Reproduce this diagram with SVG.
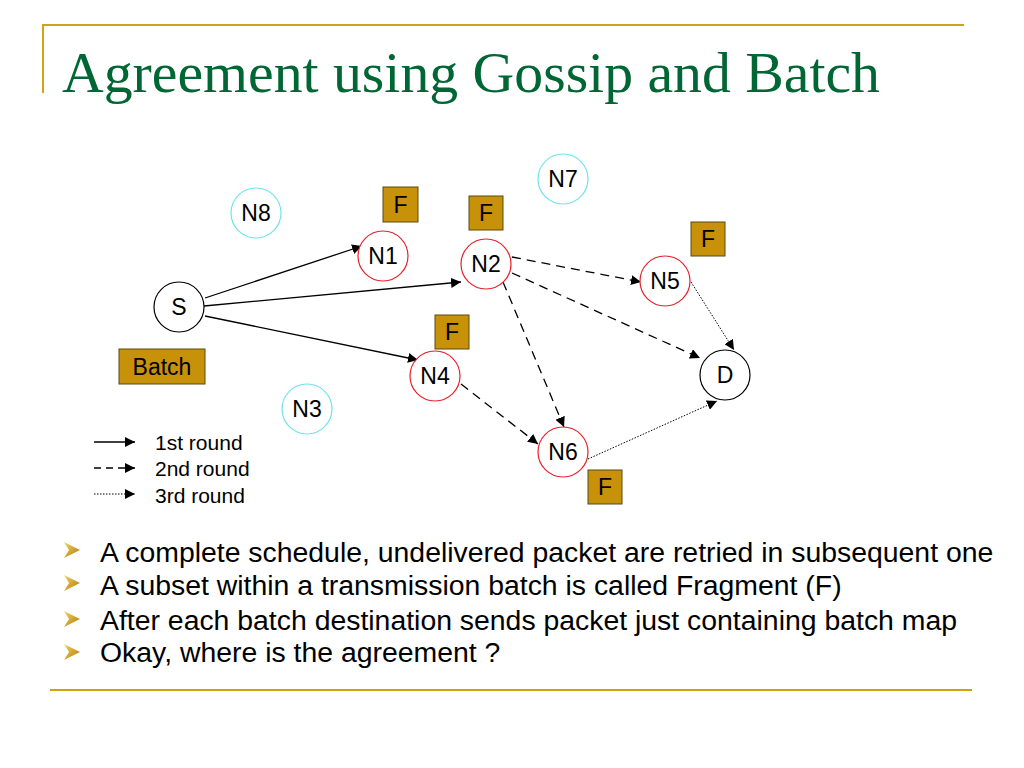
<svg xmlns="http://www.w3.org/2000/svg" width="1024" height="768" viewBox="0 0 1024 768">
<style>
.gold{stroke:#D4A017;stroke-width:2;fill:none}
.node{fill:#fff;stroke-width:1.2}
.red{stroke:#E8202A}
.cyan{stroke:#6FE3EE}
.blk{stroke:#000}
.lbl{font-family:"Liberation Sans",Arial,sans-serif;font-size:23px;fill:#000;text-anchor:middle}
.box{fill:#C8910A;stroke:#5a4a10;stroke-width:1}
.leg{font-family:"Liberation Sans",Arial,sans-serif;font-size:21px;fill:#000}
.bul{font-family:"Liberation Sans",Arial,sans-serif;font-size:28.4px;fill:#000}
.e{stroke:#000;fill:none;stroke-width:1.3}
.d2{stroke-dasharray:9,6}
.d3{stroke-dasharray:1.5,1.5;stroke-width:1}
</style>
<defs>
<marker id="ah" viewBox="0 0 10 10" refX="10" refY="5" markerWidth="10" markerHeight="10" markerUnits="userSpaceOnUse" orient="auto">
<path d="M0,0 L10,5 L0,10 z" fill="#000"/>
</marker>
<linearGradient id="bg" x1="0" y1="0" x2="1" y2="1">
<stop offset="0" stop-color="#F5D36A"/>
<stop offset="1" stop-color="#B07A00"/>
</linearGradient>
<path id="bullet" d="M0,0 L16,8 L0,16 L5,8 z" fill="url(#bg)"/>
</defs>
<rect width="1024" height="768" fill="#fff"/>
<g id="frame">
<line class="gold" x1="42" y1="25" x2="964" y2="25"/>
<line class="gold" x1="43" y1="25" x2="43" y2="93"/>
<line class="gold" x1="50" y1="690" x2="972" y2="690"/>
</g>
<text x="62" y="92" font-family="Liberation Serif,'Times New Roman',serif" font-size="56" fill="#006633" textLength="818" lengthAdjust="spacingAndGlyphs">Agreement using Gossip and Batch</text>
<g id="connectors">
<line class="e" x1="205" y1="298" x2="362" y2="246" marker-end="url(#ah)"/>
<line class="e" x1="204" y1="306" x2="461" y2="282" marker-end="url(#ah)"/>
<line class="e" x1="205" y1="316" x2="418" y2="360" marker-end="url(#ah)"/>
<line class="e d2" x1="512" y1="257" x2="641" y2="282" marker-end="url(#ah)"/>
<line class="e d2" x1="512" y1="273" x2="700" y2="358" marker-end="url(#ah)"/>
<line class="e d2" x1="503" y1="282" x2="564" y2="427" marker-end="url(#ah)"/>
<line class="e d2" x1="461" y1="384" x2="538" y2="444" marker-end="url(#ah)"/>
<line class="e d3" x1="691" y1="282" x2="734" y2="350" marker-end="url(#ah)"/>
<line class="e d3" x1="588" y1="459" x2="717" y2="401" marker-end="url(#ah)"/>
</g>
<g id="S"><circle class="node blk" cx="179" cy="307" r="25"/><text class="lbl" x="179" y="315">S</text></g>
<g id="N8"><circle class="node cyan" cx="256" cy="213" r="25"/><text class="lbl" x="256" y="221">N8</text></g>
<g id="N1"><circle class="node red" cx="383" cy="256" r="25"/><text class="lbl" x="383" y="264">N1</text></g>
<g id="N2"><circle class="node red" cx="486" cy="264" r="25"/><text class="lbl" x="486" y="272">N2</text></g>
<g id="N4"><circle class="node red" cx="435" cy="376" r="25"/><text class="lbl" x="435" y="384">N4</text></g>
<g id="N3"><circle class="node cyan" cx="307" cy="409" r="25"/><text class="lbl" x="307" y="417">N3</text></g>
<g id="N7"><circle class="node cyan" cx="563" cy="179" r="25"/><text class="lbl" x="563" y="187">N7</text></g>
<g id="N5"><circle class="node red" cx="665" cy="281" r="25"/><text class="lbl" x="665" y="289">N5</text></g>
<g id="D"><circle class="node blk" cx="725" cy="375" r="25"/><text class="lbl" x="725" y="383">D</text></g>
<g id="N6"><circle class="node red" cx="563" cy="452" r="25"/><text class="lbl" x="563" y="460">N6</text></g>
<g id="F1"><rect class="box" x="383" y="187" width="35" height="35"/><text class="lbl" x="400.5" y="213">F</text></g>
<g id="F2"><rect class="box" x="469" y="196" width="34" height="34"/><text class="lbl" x="486" y="221">F</text></g>
<g id="F4"><rect class="box" x="435" y="315" width="34" height="34"/><text class="lbl" x="452" y="340">F</text></g>
<g id="F5"><rect class="box" x="691" y="222" width="34" height="34"/><text class="lbl" x="708" y="247">F</text></g>
<g id="F6"><rect class="box" x="588" y="470" width="34" height="34"/><text class="lbl" x="605" y="495">F</text></g>
<g id="Batch"><rect class="box" x="119" y="349" width="86" height="35"/><text class="lbl" x="162" y="375">Batch</text></g>
<g id="legend">
<line class="e" x1="94" y1="442" x2="135" y2="442" marker-end="url(#ah)"/>
<line class="e" x1="94" y1="468" x2="135" y2="468" marker-end="url(#ah)" stroke-dasharray="7,5"/>
<line class="e d3" x1="94" y1="494" x2="135" y2="494" marker-end="url(#ah)"/>
<text class="leg" x="155" y="450">1st round</text>
<text class="leg" x="155" y="476">2nd round</text>
<text class="leg" x="155" y="503">3rd round</text>
</g>
<g id="bullets">
<use href="#bullet" x="64" y="542"/>
<use href="#bullet" x="64" y="575"/>
<use href="#bullet" x="64" y="611"/>
<use href="#bullet" x="64" y="644"/>
<text class="bul" x="100" y="562">A complete schedule, undelivered packet are retried in subsequent one</text>
<text class="bul" x="100" y="595">A subset within a transmission batch is called Fragment (F)</text>
<text class="bul" x="100" y="630">After each batch destination sends packet just containing batch map</text>
<text class="bul" x="100" y="662">Okay, where is the agreement ?</text>
</g>
</svg>
